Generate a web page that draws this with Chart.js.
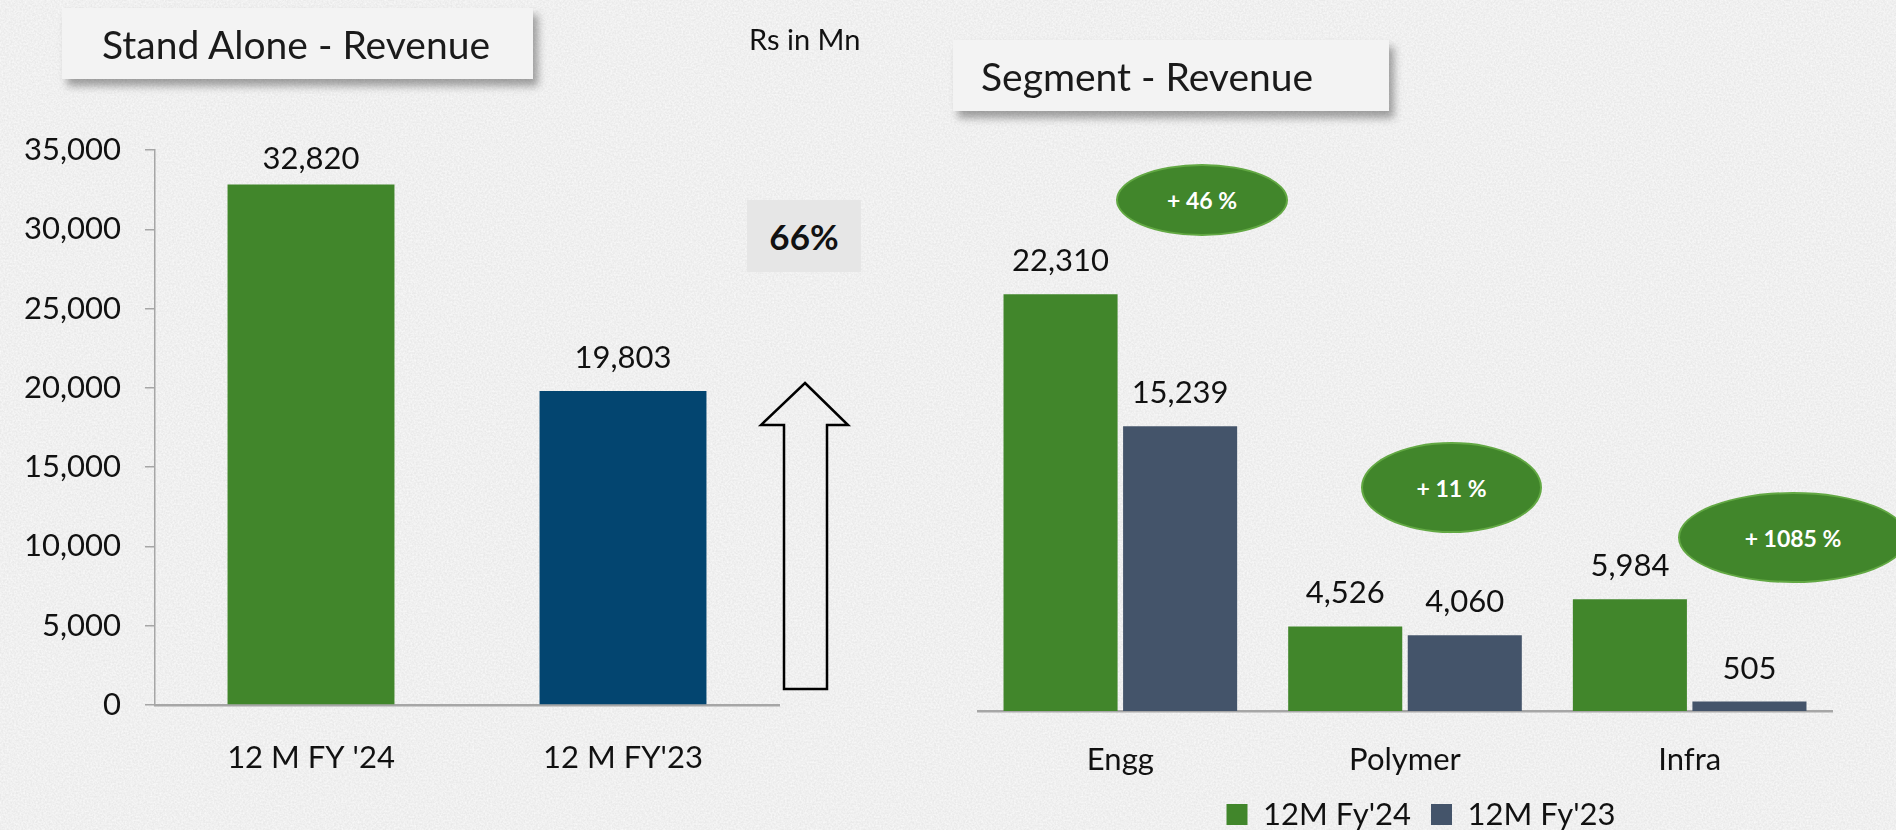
<!DOCTYPE html>
<html>
<head>
<meta charset="utf-8">
<script src="https://cdn.jsdelivr.net/npm/chart.js@4.4.0/dist/chart.umd.min.js"></script>
<style>
  html, body { margin: 0; padding: 0; }
  body {
    width: 1896px; height: 830px; overflow: hidden; position: relative;
    background: #e9e9e9; font-family: Lato, sans-serif; color: #111;
  }
  canvas { position: absolute; top: 0; }
  #standChart { left: 0; }
  #segChart { left: 950px; }
  .title-box {
    position: absolute; background: #f3f3f3; font-size: 39px; color: #1a1a1a;
    box-shadow: 5px 7px 8px rgba(0,0,0,0.35); display: flex; align-items: center;
    box-sizing: border-box;
  }
  .note { position: absolute; font-size: 29px; }
  .growth {
    position: absolute; background: #e6e6e6; font-weight: bold; font-size: 35px;
    display: flex; align-items: center; justify-content: center;
  }
  .bubble {
    position: absolute; border-radius: 50%; background: #41862b; border: 2px solid #62a843;
    color: #fff; font-weight: bold; font-size: 23px; box-sizing: border-box;
    display: flex; align-items: center; justify-content: center;
  }
  svg { position: absolute; left: 0; top: 0; }
</style>
</head>
<body>
<svg width="1896" height="830">
  <filter id="paper">
    <feTurbulence type="fractalNoise" baseFrequency="0.55" numOctaves="2" seed="3"/>
    <feColorMatrix type="matrix" values="0 0 0 0 1  0 0 0 0 1  0 0 0 0 1  0 0 0 1.1 -0.25"/>
  </filter>
  <rect width="1896" height="830" fill="#e9e9e9"/>
  <rect width="1896" height="830" filter="url(#paper)"/>
</svg>
<canvas id="standChart" width="950" height="830"></canvas>
<canvas id="segChart" width="946" height="840"></canvas>

<div class="title-box" style="left:62px;top:8px;width:471px;height:71px;padding-left:40px;">Stand Alone - Revenue</div>
<div class="note" style="left:749px;top:21px;">Rs in Mn</div>
<div class="growth" style="left:747px;top:200px;width:114px;height:72px;">66%</div>
<svg width="1896" height="830">
  <path d="M805,383 L848,425 L827,425 L827,689 L784,689 L784,425 L761,425 Z" fill="none" stroke="#000" stroke-width="2.5"/>
</svg>

<div class="title-box" style="left:953px;top:40px;width:436px;height:71px;padding-left:28px;">Segment - Revenue</div>
<div class="bubble" style="left:1116px;top:164px;width:172px;height:72px;">+ 46 %</div>
<div class="bubble" style="left:1361px;top:442px;width:181px;height:91px;">+ 11 %</div>
<div class="bubble" style="left:1678px;top:492px;width:230px;height:91px;">+ 1085 %</div>

<script>
// Stand alone revenue (Rs in Mn)
const standLabels = ["12 M FY '24", "12 M FY'23"];
const standValues = [32820, 19803];
const standColors = ["#41862b", "#034570"];

// Segment revenue
const segLabels = ["Engg", "Polymer", "Infra"];
const segFy24 = [22310, 4526, 5984];
const segFy23 = [15239, 4060, 505];
const seriesNames = ["12M Fy'24", "12M Fy'23"];

const FONT = "Lato";
const axisGrey = "#a6a6a6";
const fmt = v => Number(v).toLocaleString("en-US");

// value labels above each bar
const barValueLabels = {
  id: "barValueLabels",
  afterDatasetsDraw(chart, args, opts) {
    const ctx = chart.ctx;
    ctx.save();
    ctx.font = "31px " + FONT;
    ctx.fillStyle = "#111";
    ctx.textAlign = "center";
    ctx.textBaseline = "middle";
    chart.data.datasets.forEach((ds, i) => {
      chart.getDatasetMeta(i).data.forEach((bar, j) => {
        const y = Math.max(bar.y - opts.offset, chart.chartArea.top + opts.minTop);
        ctx.fillText(fmt(ds.data[j]), bar.x, y);
      });
    });
    ctx.restore();
  }
};

function drawCharts() {
  new Chart(document.getElementById("standChart"), {
    type: "bar",
    data: {
      labels: standLabels,
      datasets: [{
        data: standValues,
        backgroundColor: standColors,
        categoryPercentage: 1,
        barPercentage: 0.535
      }]
    },
    options: {
      responsive: false,
      animation: false,
      layout: { padding: { top: 150, right: 171, left: 0, bottom: 0 } },
      plugins: {
        legend: { display: false },
        tooltip: { enabled: false },
        barValueLabels: { offset: 33, minTop: 9 }
      },
      scales: {
        x: {
          grid: { display: false, drawTicks: false },
          border: { display: true, color: axisGrey, width: 2.5 },
          ticks: { color: "#111", font: { family: FONT, size: 31 }, padding: 34 },
          afterFit: s => { s.height = 125; }
        },
        y: {
          min: 0,
          max: 35000,
          grid: { display: true, drawOnChartArea: false, drawTicks: true, tickLength: 10, color: axisGrey, lineWidth: 1.5 },
          border: { display: true, color: axisGrey, width: 1.5 },
          ticks: {
            stepSize: 5000,
            color: "#111",
            font: { family: FONT, size: 31 },
            padding: 24,
            callback: v => fmt(v)
          },
          afterFit: s => { s.width = 155; }
        }
      }
    },
    plugins: [barValueLabels]
  });

  new Chart(document.getElementById("segChart"), {
    type: "bar",
    data: {
      labels: segLabels,
      datasets: [
        { label: seriesNames[0], data: segFy24, backgroundColor: "#41862b", categoryPercentage: 0.84, barPercentage: 0.954 },
        { label: seriesNames[1], data: segFy23, backgroundColor: "#44546a", categoryPercentage: 0.84, barPercentage: 0.954 }
      ]
    },
    options: {
      responsive: false,
      animation: false,
      layout: { padding: { top: 244, right: 32, left: 28, bottom: 0 } },
      plugins: {
        legend: {
          position: "bottom",
          labels: {
            boxWidth: 21,
            boxHeight: 21,
            padding: 20,
            color: "#111",
            font: { family: FONT, size: 31 }
          }
        },
        tooltip: { enabled: false },
        barValueLabels: { offset: 33, minTop: -999 }
      },
      scales: {
        x: {
          grid: { display: false, drawTicks: false },
          border: { display: true, color: axisGrey, width: 2.5 },
          ticks: { color: "#111", font: { family: FONT, size: 31 }, padding: 30 },
          afterFit: s => { s.height = 68; }
        },
        y: {
          position: "right",
          min: 0,
          max: 25000,
          grid: { display: false },
          border: { display: false },
          ticks: { display: false },
          afterFit: s => { s.width = 32; }
        }
      }
    },
    plugins: [barValueLabels]
  });
}

document.fonts.load("31px " + FONT).then(drawCharts, drawCharts);
</script>
</body>
</html>
